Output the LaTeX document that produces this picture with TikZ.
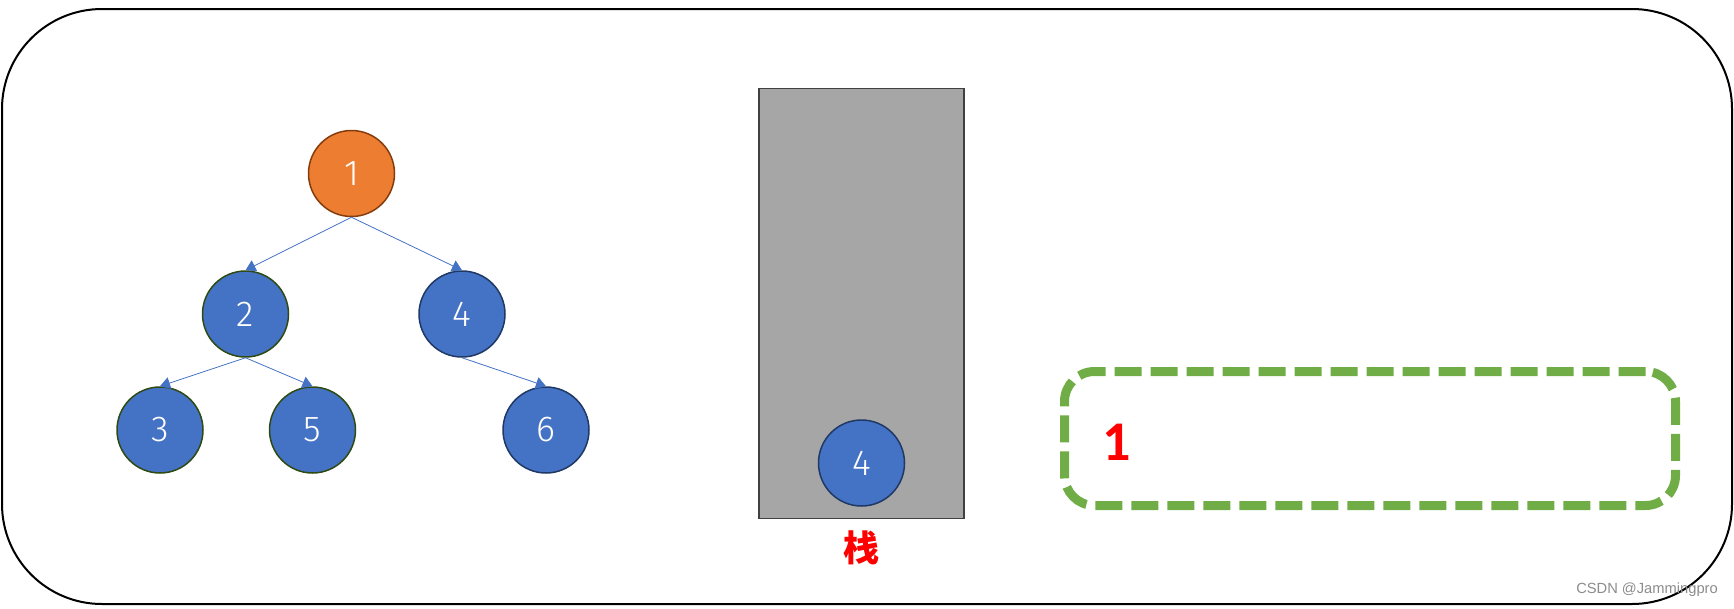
\documentclass[tikz,border=0pt]{standalone}
\usepackage{fontspec}
\usepackage{xcolor}
\usepackage{tikz}
\usetikzlibrary{arrows.meta}
\setmainfont{Carlito}
\newfontfamily\numfont{Fira Sans}[UprightFont={* Light}]
\newfontfamily\cjk{Noto Sans CJK SC}
\newfontfamily\wmfont{Liberation Sans}
\definecolor{nblue}{HTML}{4472C4}
\definecolor{norange}{HTML}{ED7D31}
\definecolor{ngreen}{HTML}{70AD47}
\definecolor{brownline}{HTML}{843C0C}
\definecolor{oliveline}{HTML}{2E4A12}
\definecolor{navyline}{HTML}{203864}

\begin{document}
\begin{tikzpicture}[x=1pt, y=-1pt,
  nd/.style={circle, draw, fill=nblue, line width=1.5pt, minimum size=86pt,
             inner sep=0pt, text=white, font=\numfont\fontsize{36}{36}\selectfont},
  ar/.style={-{Triangle[length=10pt,width=12pt]}, nblue, line width=0.8pt}]
\useasboundingbox (0,0) rectangle (1734,608);
\draw[line width=2pt, rounded corners=100pt] (2,9) rectangle (1732,604);
% tree
\node[nd, fill=norange, draw=brownline] (n1) at (351.5,173.5) {1};
\node[nd, draw=oliveline] (n2) at (245.5,314) {2};
\node[nd, draw=navyline] (n4) at (462,314) {4};
\node[nd, draw=oliveline] (n3) at (160,430) {3};
\node[nd, draw=oliveline] (n5) at (312.5,430) {5};
\node[nd, draw=navyline] (n6) at (546,430) {6};
\draw[ar] (n1.south)--(n2.north);
\draw[ar] (n1.south)--(n4.north);
\draw[ar] (n2.south)--(n3.north);
\draw[ar] (n2.south)--(n5.north);
\draw[ar] (n4.south)--(n6.north);
% stack
\node[draw=black!75, fill=black!35, line width=1.5pt, minimum width=205pt,
      minimum height=430pt, inner sep=0pt] (stack) at (861.3,303.5) {};
\node[nd, draw=navyline] (s4) at (861.5,463) {4};
\node[text=red, font=\cjk\bfseries\fontsize{36}{36}\selectfont] (lbl) at (861,548) {栈};
% output
\node[draw=ngreen, line width=9pt, dash pattern=on 27pt off 9pt, rounded corners=30pt,
      minimum width=611pt, minimum height=134pt] (out) at (1370,438.5) {};
\node[text=red, font=\bfseries\fontsize{56}{56}\selectfont] (o1) at (1117,442) {1};
\node[text=black!45, font=\wmfont\fontsize{14.7}{14.7}\selectfont] (wm) at (1647,590) {CSDN @Jammingpro};
\end{tikzpicture}
\end{document}
